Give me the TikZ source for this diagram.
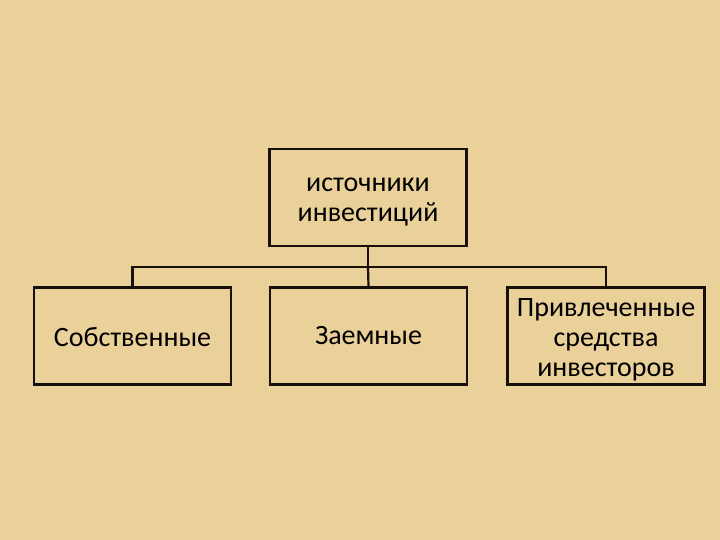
\documentclass[tikz,border=0pt]{standalone}
\usepackage{fontspec}
\setmainfont{Carlito}
\definecolor{parch}{RGB}{234,208,153}
\definecolor{edge}{RGB}{25,15,10}
\tikzset{
  box/.style={draw=edge, line width=2.2pt, minimum width=197pt, minimum height=97pt, inner sep=0pt},
  txt/.style={inner sep=0pt, align=center, font=\fontsize{28}{30}\selectfont, text=black},
  conn/.style={draw=edge, line width=2.2pt}
}
\begin{document}
\begin{tikzpicture}[x=1pt,y=-1pt]
\fill[parch] (0,0) rectangle (720,540);
\useasboundingbox (0,0) rectangle (720,540);
\node[box] (top) at (368,197.5) {};
\node[box] (a) at (132.5,336) {};
\node[box] (b) at (368.5,336) {};
\node[box] (c) at (606,336) {};
\node[txt] (topt) at ([yshift=-5pt]top.center) {источники\\инвестиций};
\node[txt] (at) at ([yshift=-1pt]a.center) {Собственные};
\node[txt] (bt) at ([yshift=0pt]b.center) {Заемные};
\node[txt] (ct) at ([yshift=-4pt]c.center) {Привлеченные\\средства\\инвесторов};
\coordinate (j) at (368,267);
\draw[conn] (top.south) -- (j);
\draw[conn] (a.north) |- (j) -| (c.north);
\draw[conn] (j) -- (b.north);
\end{tikzpicture}
\end{document}
